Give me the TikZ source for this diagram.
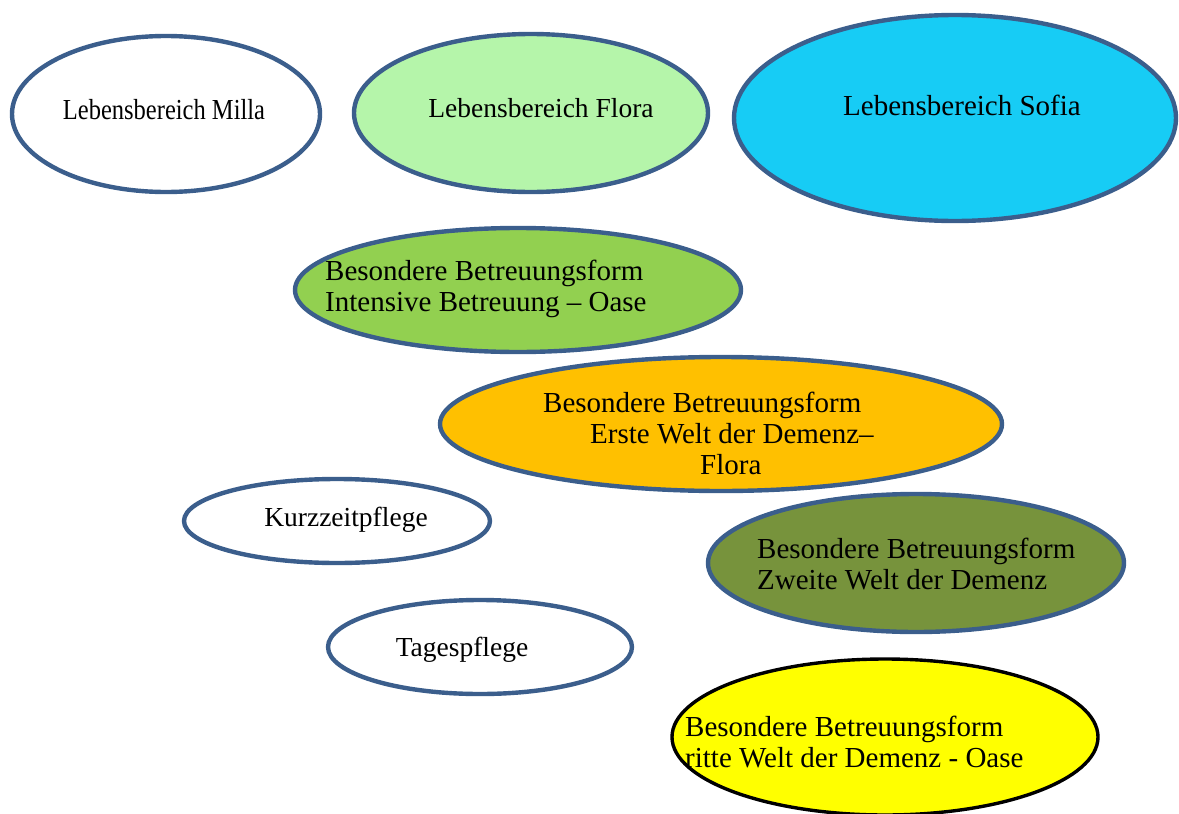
\documentclass[tikz,border=0pt]{standalone}
\usepackage{fontspec}
\setmainfont{Liberation Serif}
\usetikzlibrary{shapes.geometric}
\definecolor{rim}{HTML}{3B5E8C}
\definecolor{floraG}{HTML}{B5F5AA}
\definecolor{sofiaB}{HTML}{17CCF5}
\definecolor{oaseG}{HTML}{92D050}
\definecolor{ersteO}{HTML}{FFC000}
\definecolor{zweiteG}{HTML}{77933C}
\definecolor{dritteY}{HTML}{FFFF00}
\tikzset{
  oval/.style={ellipse, draw=rim, line width=4.4pt, inner sep=0pt, fill=white},
  bigtxt/.style={inner sep=0pt, font=\fontsize{29}{31}\selectfont, align=left},
  smalltxt/.style={inner sep=0pt, font=\fontsize{27.5}{30}\selectfont},
}
\begin{document}
\begin{tikzpicture}[x=1pt,y=-1pt]
\useasboundingbox (0,0) rectangle (1179,814);
% ellipses
\node[oval, minimum width=308pt, minimum height=156pt] (milla) at (166,114) {};
\node[oval, fill=floraG, minimum width=354pt, minimum height=158pt] (flora) at (531,113) {};
\node[oval, fill=sofiaB, minimum width=442pt, minimum height=206pt] (sofia) at (955,118) {};
\node[oval, fill=oaseG, minimum width=446pt, minimum height=124pt] (oase) at (518,290) {};
\node[oval, fill=ersteO, minimum width=562pt, minimum height=134pt] (erste) at (721,424) {};
\node[oval, minimum width=306pt, minimum height=84pt] (kurz) at (337,521) {};
\node[oval, fill=zweiteG, minimum width=416pt, minimum height=138pt] (zweite) at (916,563) {};
\node[oval, minimum width=304pt, minimum height=94pt] (tages) at (480,647) {};
\node[oval, draw=black, line width=3.4pt, fill=dritteY, minimum width=426pt, minimum height=156pt] (dritte) at (885,737) {};
% texts
\node[bigtxt, anchor=base] (tmilla) at (164,119) {\scalebox{0.845}[1]{Lebensbereich Milla}};
\node[smalltxt, anchor=base] (tflora) at (541,117) {Lebensbereich Flora};
\node[bigtxt, anchor=base] (tsofia) at (962,115) {Lebensbereich Sofia};
\node[bigtxt, anchor=base west] (toase) at (325,311) {Besondere Betreuungsform\\Intensive Betreuung – Oase};
\node[bigtxt, anchor=base west] (terste) at (543,474) {Besondere Betreuungsform\\\hspace*{47pt}Erste Welt der Demenz–\\\hspace*{157pt}Flora};
\node[smalltxt, anchor=base] (tkurz) at (346,526) {Kurzzeitpflege};
\node[bigtxt, anchor=base west] (tzweite) at (757,589) {Besondere Betreuungsform\\Zweite Welt der Demenz};
\node[smalltxt, anchor=base] (ttages) at (462,656) {Tagespflege};
\node[bigtxt, anchor=base west] (tdritte) at (685,767) {Besondere Betreuungsform\\ritte Welt der Demenz - Oase};
\end{tikzpicture}
\end{document}
